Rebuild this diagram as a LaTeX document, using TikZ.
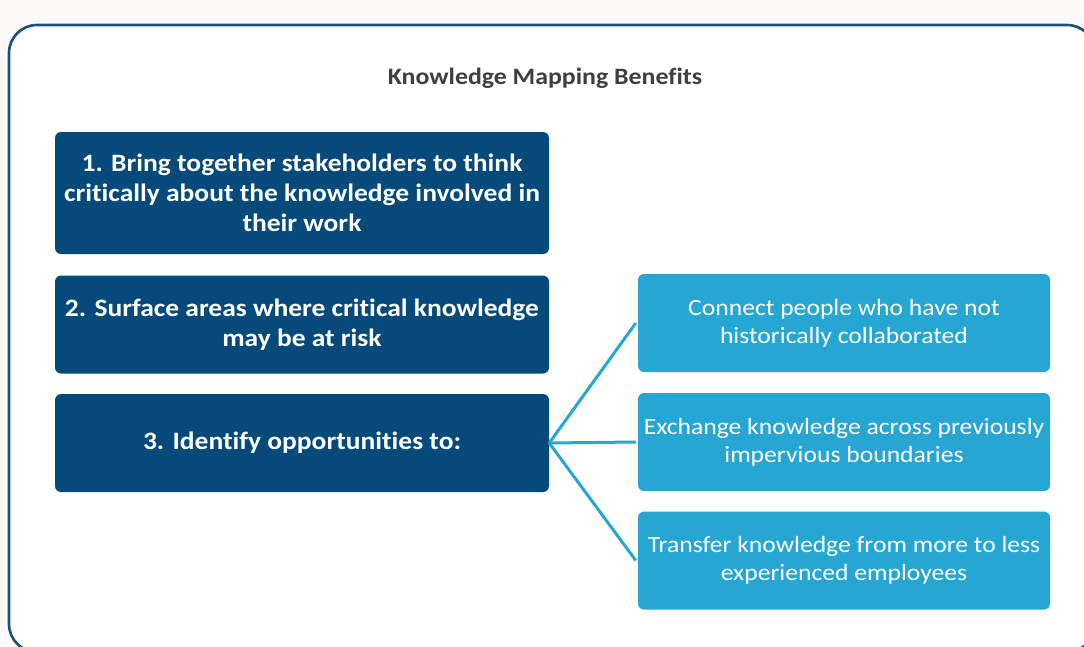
\documentclass[tikz,border=0pt]{standalone}
\usepackage{fontspec}
\setmainfont[FakeStretch=1.1, Ligatures=NoCommon]{Carlito}
\definecolor{pagebg}{HTML}{FCFAF8}
\definecolor{framecol}{HTML}{1A4F80}
\definecolor{navybox}{HTML}{054A7A}
\definecolor{skybox}{HTML}{25A6D3}
\definecolor{titlecol}{HTML}{3F3F3F}
\tikzset{
  framebox/.style={draw=framecol, line width=2.6pt, fill=white, rounded corners=28pt},
  mainbox/.style={fill=navybox, rounded corners=6pt, text=white, align=center,
    minimum width=494pt, font=\bfseries\fontsize{25}{30}\selectfont, inner sep=0pt},
  subbox/.style={fill=skybox, rounded corners=6pt, text=white, align=center,
    minimum width=412pt, minimum height=98pt, font=\fontsize{23.3}{28}\selectfont, inner sep=0pt},
  link/.style={draw=skybox, line width=3pt}
}
\begin{document}
\begin{tikzpicture}[x=1pt,y=-1pt]
\useasboundingbox (0,0) rectangle (1084,646);
\fill[pagebg] (0,0) rectangle (1084,646);
\draw[framebox] (9,25) rectangle (1095,652);

\node[font=\bfseries\fontsize{23.5}{26}\selectfont, text=titlecol] (title) at (545,78) {Knowledge Mapping Benefits};

\node[mainbox, minimum height=122pt] (b1) at (302,193) {1. Bring together stakeholders to think\\critically about the knowledge involved in\\their work};
\node[mainbox, minimum height=98pt] (b2) at (302,324.5) {2. Surface areas where critical knowledge\\may be at risk};
\node[mainbox, minimum height=98pt] (b3) at (302,443) {3. Identify opportunities to:};

\node[subbox] (s1) at (844,323) {Connect people who have not\\historically collaborated};
\node[subbox] (s2) at (844,442) {Exchange knowledge across previously\\impervious boundaries};
\node[subbox] (s3) at (844,560.5) {Transfer knowledge from more to less\\experienced employees};

\draw[link] (b3.east) -- ([xshift=-2pt]s1.west);
\draw[link] (b3.east) -- ([xshift=-2pt]s2.west);
\draw[link] (b3.east) -- ([xshift=-2pt]s3.west);
\end{tikzpicture}
\end{document}
